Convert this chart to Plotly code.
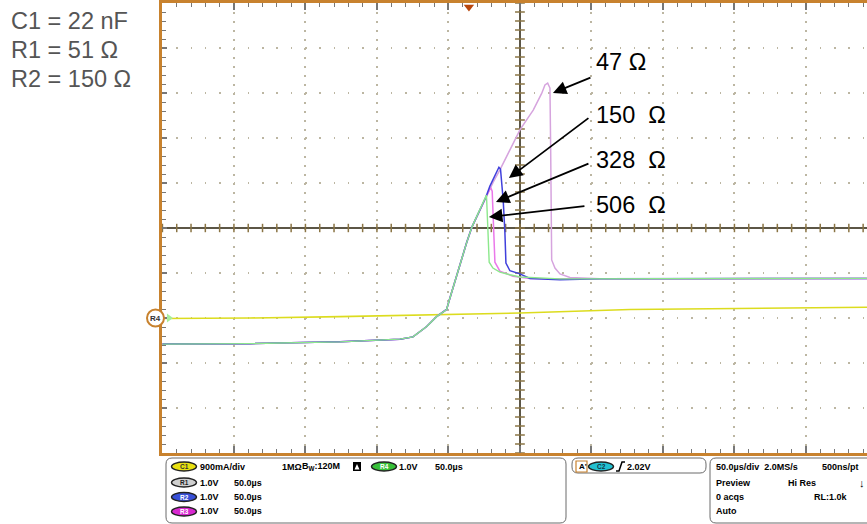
import plotly.graph_objects as go

# ---------------- data (time in µs, amplitude in screen divisions) ----------------
rise_t = [-250, -188.8, -125.9, -83.9, -74.8, -65.2, -58.3, -51.3, -49.0, -45.5, -42.0, -37.3, -33.6, -28.0, -23.8]
rise_y = [-2.58, -2.57, -2.53, -2.47, -2.42, -2.19, -1.97, -1.81, -1.56, -1.18, -0.80, -0.33, 0.02, 0.40, 0.69]

flat_t = [55.9, 125.9, 195.8, 242.7]
flat_y = [-1.13, -1.13, -1.12, -1.12]

r506_t = [-23.4, -22.4, -21.5, -18.9, -14.0, -7.0, 0.0, 28.0]
r506_y = [0.73, -0.04, -0.76, -0.89, -0.98, -1.04, -1.09, -1.13]

r328_t = [-22.0, -20.5, -19.4, -18.5, -17.5, -14.0, -4.9, 7.0]
r328_y = [0.82, 0.90, 0.82, -0.04, -0.76, -0.96, -1.07, -1.12]

r150_t = [-21.0, -18.2, -16.1, -14.7, -13.6, -11.7, -10.5, -9.8, -7.0, 0.0, 7.0, 28.0]
r150_y = [0.93, 1.13, 1.29, 1.35, 1.31, 0.62, -0.11, -0.78, -0.95, -1.02, -1.12, -1.15]

r47_t = [-21.0, -18.7, -14.0, -9.3, -4.7, 0.0, 4.2, 9.3, 15.2, 17.5, 19.4, 21.0, 21.5, 21.8, 22.2, 24.5, 28.0, 35.0, 45.5]
r47_y = [0.89, 1.02, 1.29, 1.58, 1.88, 2.18, 2.38, 2.62, 2.99, 3.18, 3.22, 3.11, 1.73, -0.04, -0.71, -0.89, -1.02, -1.10, -1.12]

c1_t = [-250, -188.8, -125.9, -55.9, 0.0, 76.9, 153.8, 242.7]
c1_y = [-2.01, -2.00, -1.97, -1.92, -1.89, -1.81, -1.78, -1.76]

params = ["C1 = 22 nF", "R1 = 51 Ω", "R2 = 150 Ω"]
labels = ["47 Ω", "150\u00a0\u00a0Ω", "328\u00a0\u00a0Ω", "506\u00a0\u00a0Ω"]

# ---------------- geometry helpers ----------------
W, H = 867, 524
L, T, B = 162, 3, 71
PW, PH = W - L, H - T - B


def px(x):
    return (x - L) / PW


def py(y):
    return (H - B - y) / PH


def dx(x):
    return (x - 520) / 1.43


def dy(y):
    return (228 - y) / 45.0


fig = go.Figure()

# center crosshair tick marks
fig.add_trace(go.Scatter(x=[i * 10 for i in range(-25, 25)], y=[0] * 50, mode="markers",
                         marker=dict(symbol="line-ns", size=6, line=dict(color="#8a7444", width=1.5)),
                         hoverinfo="skip"))
fig.add_trace(go.Scatter(x=[0] * 51, y=[i * 0.2 for i in range(-25, 26)], mode="markers",
                         marker=dict(symbol="line-ew", size=7, line=dict(color="#8a7444", width=1.5)),
                         hoverinfo="skip"))

# traces
fig.add_trace(go.Scatter(x=c1_t, y=c1_y, mode="lines", line=dict(color="#dcdc1e", width=1.6)))
fig.add_trace(go.Scatter(x=rise_t + r47_t + flat_t, y=rise_y + r47_y + flat_y, mode="lines",
                         line=dict(color="#d6a4de", width=1.5)))
fig.add_trace(go.Scatter(x=rise_t + r328_t + flat_t, y=rise_y + r328_y + flat_y, mode="lines",
                         line=dict(color="#ea78ea", width=1.5)))
fig.add_trace(go.Scatter(x=rise_t + r150_t + flat_t, y=rise_y + r150_y + flat_y, mode="lines",
                         line=dict(color="#4040dc", width=1.5)))
fig.add_trace(go.Scatter(x=rise_t + r506_t + flat_t, y=rise_y + r506_y + flat_y, mode="lines",
                         line=dict(color="#8ce88c", width=1.4)))

# trigger marker on top and R4 level arrow
fig.add_trace(go.Scatter(x=[dx(469)], y=[dy(7)], mode="markers", cliponaxis=False,
                         marker=dict(symbol="triangle-down", size=9, color="#b8460c")))
fig.add_trace(go.Scatter(x=[dx(169)], y=[dy(318)], mode="markers", cliponaxis=False,
                         marker=dict(symbol="triangle-right", size=8, color="#a8ee9c")))

shapes = []
annotations = []

# R4 circle marker
shapes.append(dict(type="circle", xref="paper", yref="paper", x0=px(147), x1=px(164), y0=py(326.5), y1=py(309.5),
                   fillcolor="white", line=dict(color="#c8822e", width=2)))
annotations.append(dict(xref="paper", yref="paper", x=px(155.5), y=py(318), text="<b>R4</b>", showarrow=False,
                        font=dict(size=8, color="#333"), xanchor="center", yanchor="middle"))

# left parameters text
for i, s in enumerate(params):
    annotations.append(dict(xref="paper", yref="paper", x=px(9), y=py(21 + 29 * i), text=s, showarrow=False,
                            xanchor="left", yanchor="middle",
                            font=dict(size=23.5, color="#555555", family="Liberation Sans, Arial")))

# labels with arrows
label_y = [62, 115, 160, 205]
tails = [(592, 77), (590, 117), (590, 163), (586, 206)]
tips = [(553, 93), (509, 178), (496, 202), (489, 217)]
for s, ly, (tx, ty), (hx, hy) in zip(labels, label_y, tails, tips):
    annotations.append(dict(xref="paper", yref="paper", x=px(594), y=py(ly), text=s, showarrow=False,
                            xanchor="left", yanchor="middle",
                            font=dict(size=23.5, color="black", family="Liberation Sans, Arial")))
    annotations.append(dict(x=dx(hx), y=dy(hy), ax=dx(tx), ay=dy(ty), axref="x", ayref="y", xref="x", yref="y",
                            text="", showarrow=True, arrowhead=2, arrowsize=1.5, arrowwidth=1.8,
                            arrowcolor="black", standoff=0, startstandoff=0))


# ---------------- bottom status panel ----------------
def rbox(x0, y0, x1, y1, r=6):
    p = (f"M {px(x0 + r)},{py(y0)} L {px(x1 - r)},{py(y0)} Q {px(x1)},{py(y0)} {px(x1)},{py(y0 + r)} "
         f"L {px(x1)},{py(y1 - r)} Q {px(x1)},{py(y1)} {px(x1 - r)},{py(y1)} "
         f"L {px(x0 + r)},{py(y1)} Q {px(x0)},{py(y1)} {px(x0)},{py(y1 - r)} "
         f"L {px(x0)},{py(y0 + r)} Q {px(x0)},{py(y0)} {px(x0 + r)},{py(y0)} Z")
    shapes.append(dict(type="path", xref="paper", yref="paper", path=p, line=dict(color="#6a6a6a", width=1)))


rbox(166, 458, 566, 523)
rbox(572, 458, 706, 473)
rbox(710, 458, 880, 523)


def pill(xc, yc, fill, txt, tcol):
    shapes.append(dict(type="circle", xref="paper", yref="paper", x0=px(xc - 12.5), x1=px(xc + 12.5),
                       y0=py(yc + 4.5), y1=py(yc - 4.5), fillcolor=fill, line=dict(color="#222", width=1.4)))
    annotations.append(dict(xref="paper", yref="paper", x=px(xc), y=py(yc), text=f"<b>{txt}</b>",
                            showarrow=False, xanchor="center", yanchor="middle",
                            font=dict(size=6.5, color=tcol)))


def ptxt(x, y, s, size=9):
    annotations.append(dict(xref="paper", yref="paper", x=px(x), y=py(y), text=f"<b>{s}</b>", showarrow=False,
                            xanchor="left", yanchor="middle",
                            font=dict(size=size, color="black", family="Liberation Sans, Arial")))


rows = [466.5, 482.5, 497, 511.5]
pill(184, rows[0], "#e8e010", "C1", "#333")
pill(184, rows[1], "#d0d0d0", "R1", "#222")
pill(184, rows[2], "#3850d8", "R2", "white")
pill(184, rows[3], "#d828d0", "R3", "white")
pill(384, rows[0], "#38c038", "R4", "white")
pill(601, rows[0], "#22c0d0", "C2", "#134")

ptxt(198, rows[0], "900mA/div")
ptxt(280, rows[0], "1MΩ")
ptxt(300, rows[0], "B<sub>W</sub>:120M")
shapes.append(dict(type="rect", xref="paper", yref="paper", x0=px(353), x1=px(361), y0=py(471), y1=py(462),
                   fillcolor="black", line=dict(width=0)))
shapes.append(dict(type="path", xref="paper", yref="paper",
                   path=f"M {px(354.5)},{py(469.5)} L {px(357)},{py(464)} L {px(359.5)},{py(469.5)} Z",
                   fillcolor="white", line=dict(width=0)))
ptxt(397, rows[0], "1.0V")
ptxt(433, rows[0], "50.0µs")
for r in rows[1:]:
    ptxt(198, r, "1.0V")
    ptxt(232, r, "50.0µs")

shapes.append(dict(type="rect", xref="paper", yref="paper", x0=px(576), x1=px(587), y0=py(472), y1=py(461),
                   fillcolor="white", line=dict(color="#c8822e", width=1.2)))
ptxt(577, rows[0], "A'", 8)
shapes.append(dict(type="path", xref="paper", yref="paper",
                   path=f"M {px(616)},{py(471)} L {px(619)},{py(471)} L {px(622)},{py(462)} L {px(625)},{py(462)}",
                   line=dict(color="black", width=1.5)))
ptxt(625, rows[0], "2.02V")

ptxt(714, rows[0], "50.0µs/div  2.0MS/s")
ptxt(820, rows[0], "500ns/pt")
ptxt(714, rows[1], "Preview")
ptxt(786, rows[1], "Hi Res")
ptxt(857, rows[1], "↓", 11)
ptxt(714, rows[2], "0 acqs")
ptxt(812, rows[2], "RL:1.0k")
ptxt(714, rows[3], "Auto")

fig.update_layout(
    width=W, height=H, autosize=False,
    margin=dict(l=L, r=0, t=T, b=B, pad=0),
    plot_bgcolor="white", paper_bgcolor="white",
    showlegend=False,
    font=dict(family="Liberation Sans, Arial"),
    shapes=shapes, annotations=annotations,
    xaxis=dict(range=[-250.3, 242.7], dtick=50, tick0=0, showgrid=True, gridcolor="#bcb6a2", gridwidth=2,
               griddash="1.5px,7.5px", zeroline=True, zerolinecolor="#5c5646", zerolinewidth=2,
               showline=True, linecolor="#c8822e", linewidth=3, mirror="ticks",
               ticks="inside", ticklen=7, tickwidth=1.5, tickcolor="#777", showticklabels=False,
               minor=dict(ticks="inside", dtick=10, ticklen=4, tickwidth=1, tickcolor="#777"),
               fixedrange=True),
    yaxis=dict(range=[-5, 5], dtick=1, tick0=0, showgrid=True, gridcolor="#bcb6a2", gridwidth=2,
               griddash="1.5px,12.8px", zeroline=True, zerolinecolor="#5c5646", zerolinewidth=2,
               showline=True, linecolor="#c8822e", linewidth=3, mirror=False,
               ticks="inside", ticklen=5, tickwidth=1.5, tickcolor="#777", showticklabels=False,
               minor=dict(ticks="inside", dtick=0.2, ticklen=4, tickwidth=1, tickcolor="#777"),
               fixedrange=True),
)

fig.write_html("out.html", config={"displayModeBar": False},
               post_script="document.body.style.margin='0';document.body.style.overflow='hidden';")
